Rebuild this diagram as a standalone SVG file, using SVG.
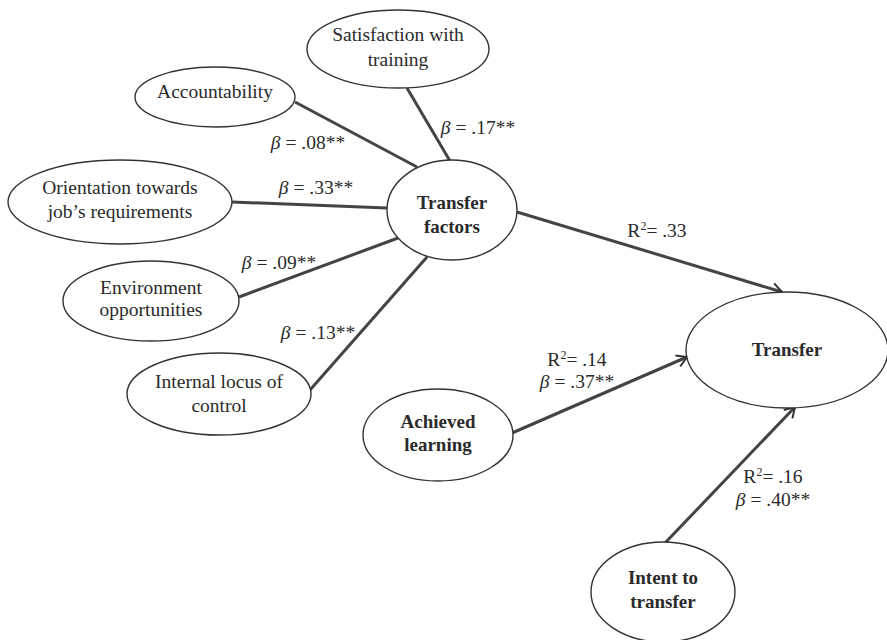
<svg xmlns="http://www.w3.org/2000/svg" width="887" height="640" viewBox="0 0 887 640" font-family="'Liberation Serif', 'Times New Roman', serif">
<defs>
<style>
.node ellipse{fill:#fff;stroke:#333;stroke-width:1.4}
.lbl{font-family:"Liberation Serif","Times New Roman",serif;font-size:19.5px;fill:#2a2a2a;text-anchor:middle}
.b{font-weight:bold;font-size:19px}
.edge{stroke:#444;stroke-width:3;fill:none}
.it{font-style:italic}
.sup{font-size:12px}
</style>
<marker id="arr" markerUnits="userSpaceOnUse" markerWidth="16" markerHeight="16" viewBox="0 0 16 16" refX="14" refY="8" orient="auto">
<path d="M4,2 L14,8 L4,14" fill="none" stroke="#333" stroke-width="2"/>
</marker>
</defs>
<rect width="887" height="640" fill="#fff"/>
<g id="connectors">
<line class="edge" x1="407" y1="88" x2="450" y2="161"/>
<line class="edge" x1="295" y1="102" x2="417" y2="167"/>
<line class="edge" x1="232" y1="202" x2="387" y2="208"/>
<line class="edge" x1="239" y1="297" x2="398" y2="238"/>
<line class="edge" x1="310" y1="390" x2="427" y2="257"/>
<line class="edge" x1="517" y1="212" x2="782" y2="292" marker-end="url(#arr)"/>
<line class="edge" x1="512" y1="433" x2="687" y2="357" marker-end="url(#arr)"/>
<line class="edge" x1="665" y1="543" x2="795" y2="407" marker-end="url(#arr)"/>
<text class="lbl" x="478" y="134"><tspan class="it">β</tspan> = .17**</text>
<text class="lbl" x="308" y="149"><tspan class="it">β</tspan> = .08**</text>
<text class="lbl" x="316" y="194"><tspan class="it">β</tspan> = .33**</text>
<text class="lbl" x="279" y="269"><tspan class="it">β</tspan> = .09**</text>
<text class="lbl" x="318" y="339"><tspan class="it">β</tspan> = .13**</text>
<text class="lbl" x="657" y="237">R<tspan class="sup" dy="-7">2</tspan><tspan dy="7">= .33</tspan></text>
<text class="lbl" x="577" y="366">R<tspan class="sup" dy="-7">2</tspan><tspan dy="7">= .14</tspan></text>
<text class="lbl" x="577" y="388"><tspan class="it">β</tspan> = .37**</text>
<text class="lbl" x="773" y="483">R<tspan class="sup" dy="-7">2</tspan><tspan dy="7">= .16</tspan></text>
<text class="lbl" x="773" y="506"><tspan class="it">β</tspan> = .40**</text>
</g>
<g id="satisfaction" class="node">
<ellipse cx="398" cy="49" rx="91" ry="39"/>
<text class="lbl" x="398" y="41">Satisfaction with</text>
<text class="lbl" x="398" y="66">training</text>
</g>
<g id="accountability" class="node">
<ellipse cx="215" cy="97" rx="80" ry="30"/>
<text class="lbl" x="215" y="98">Accountability</text>
</g>
<g id="orientation" class="node">
<ellipse cx="120" cy="202" rx="112" ry="42"/>
<text class="lbl" x="120" y="194">Orientation towards</text>
<text class="lbl" x="120" y="218">job’s requirements</text>
</g>
<g id="environment" class="node">
<ellipse cx="151" cy="301" rx="88" ry="40"/>
<text class="lbl" x="151" y="294">Environment</text>
<text class="lbl" x="151" y="316">opportunities</text>
</g>
<g id="locus" class="node">
<ellipse cx="219" cy="394" rx="92" ry="41"/>
<text class="lbl" x="219" y="388">Internal locus of</text>
<text class="lbl" x="219" y="412">control</text>
</g>
<g id="transfer-factors" class="node">
<ellipse cx="452" cy="210" rx="65" ry="50"/>
<text class="lbl b" x="452" y="209">Transfer</text>
<text class="lbl b" x="452" y="233">factors</text>
</g>
<g id="achieved" class="node">
<ellipse cx="438" cy="435" rx="75" ry="46"/>
<text class="lbl b" x="438" y="428">Achieved</text>
<text class="lbl b" x="438" y="451">learning</text>
</g>
<g id="transfer" class="node">
<ellipse cx="787" cy="350" rx="101" ry="58"/>
<text class="lbl b" x="787" y="356">Transfer</text>
</g>
<g id="intent" class="node">
<ellipse cx="663" cy="592" rx="72" ry="50"/>
<text class="lbl b" x="663" y="584">Intent to</text>
<text class="lbl b" x="663" y="608">transfer</text>
</g>
</svg>
